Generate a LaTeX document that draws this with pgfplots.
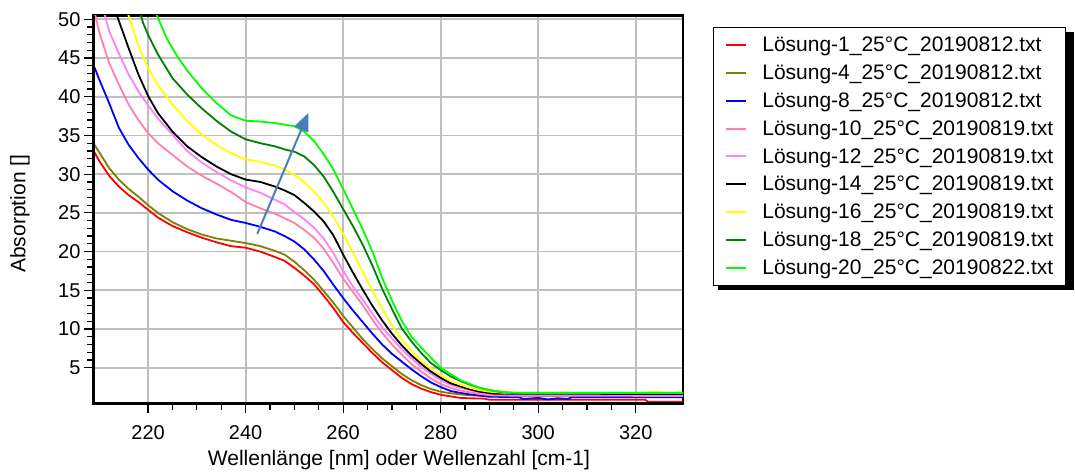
\documentclass[border=0pt]{standalone}
\usepackage{fontspec}
\setmainfont{Liberation Sans}
\usepackage{pgfplots}
\pgfplotsset{compat=1.18}
\usetikzlibrary{arrows.meta}
\definecolor{cRed}{RGB}{255,0,0}
\definecolor{cOlive}{RGB}{128,128,0}
\definecolor{cBlue}{RGB}{0,0,255}
\definecolor{cPink}{RGB}{255,128,170}
\definecolor{cViolet}{RGB}{255,128,255}
\definecolor{cYellow}{RGB}{255,255,0}
\definecolor{cDkGreen}{RGB}{0,128,0}
\definecolor{cGreen}{RGB}{0,255,0}
\definecolor{cArrow}{RGB}{74,126,187}
\definecolor{cGrid}{RGB}{192,192,192}
\begin{document}
\begin{tikzpicture}[x=1pt,y=1pt]
\useasboundingbox (0,0) rectangle (1075,475);
% legend shadow
\fill[black] (718,185) rectangle (1073.5,443);
\begin{axis}[
  at={(93pt,71pt)}, anchor=south west,
  scale only axis, width=590pt, height=388.3pt,
  xmin=208.7, xmax=329.7, ymin=0.31, ymax=50.47,
  xtick={220,240,...,320}, ytick={5,10,...,50},
  minor x tick num=3, minor y tick num=4,
  xtick pos=bottom, ytick pos=left,
  tick align=outside,
  major tick length=9pt, minor tick length=6pt,
  xtick style={black, line width=1.2pt},
  ytick style={black, line width=1.2pt},
  grid=major,
  major grid style={cGrid, line width=1.8pt},
  axis line style={black, line width=2.5pt},
  /pgf/number format/assume math mode=true,
  tick label style={font=\fontsize{20}{24}\selectfont},
  xticklabel style={yshift=-9pt},
  label style={font=\fontsize{21}{25}\selectfont},
  xlabel={Wellenlänge [nm] oder Wellenzahl [cm-1]},
  ylabel={Absorption []},
  xlabel style={at={(axis description cs:0.5186,-0.144)}, anchor=center},
  ylabel style={at={(axis description cs:-0.1237,0.49)}, anchor=center},
  clip=true,
  every axis plot/.append style={line width=1.8pt},
  legend cell align=left,
  legend image code/.code={\draw[#1, line width=2pt] (0pt,0pt) -- (20pt,0pt);},
  legend style={at={(1.0503,0.9717)}, anchor=north west, draw=black, line width=1.3pt,
    fill=white,
    font=\fontsize{21}{25}\selectfont, inner xsep=12pt, inner ysep=4pt, row sep=0pt,
    nodes={inner sep=0pt, minimum height=27.8pt},
    /tikz/every odd column/.append style={column sep=15pt},
    /tikz/every even column/.append style={column sep=5pt}},
]
\addplot[cRed] coordinates {(209,32.8)(210,31.7)(212,29.8)(214,28.4)(216,27.3)(218,26.4)(220,25.4)(222,24.4)(225,23.3)(228,22.5)(231,21.8)(234,21.2)(237,20.7)(240,20.5)(243,20.0)(246,19.3)(248,18.8)(250,17.9)(252,16.9)(254,15.8)(256,14.3)(258,12.7)(260,10.9)(262,9.5)(264,8.2)(266,6.9)(268,5.7)(270,4.7)(272,3.7)(274,2.9)(276,2.3)(278,1.85)(280,1.5)(282,1.3)(284,1.1)(286,1.05)(289,1.0)(290,0.85)(322,0.85)(322.5,0.6)(330,0.6)};
\addlegendentry{Lösung-1\_25°C\_20190812.txt}
\addplot[cOlive] coordinates {(209,33.8)(210,32.8)(212,30.8)(214,29.3)(216,28.1)(218,27.1)(220,26.0)(222,25.0)(225,23.8)(228,22.9)(231,22.2)(234,21.7)(237,21.4)(240,21.1)(243,20.7)(246,20.1)(248,19.6)(250,18.7)(252,17.6)(254,16.4)(256,14.9)(258,13.4)(260,11.7)(262,10.2)(264,8.7)(266,7.4)(268,6.2)(270,5.2)(272,4.2)(274,3.4)(276,2.75)(278,2.25)(280,1.9)(282,1.7)(284,1.55)(286,1.45)(290,1.3)(330,1.3)};
\addlegendentry{Lösung-4\_25°C\_20190812.txt}
\addplot[cBlue] coordinates {(209,43.8)(210,42.2)(212,39.2)(214,36.0)(216,33.8)(218,32.1)(220,30.6)(222,29.3)(225,27.8)(228,26.6)(231,25.6)(234,24.8)(237,24.1)(240,23.7)(243,23.2)(246,22.6)(248,22.0)(250,21.3)(252,20.3)(254,19.0)(256,17.5)(258,15.7)(260,14.0)(262,12.4)(264,10.9)(266,9.4)(268,8.0)(270,6.8)(272,5.8)(274,4.8)(276,3.9)(278,3.1)(280,2.5)(282,2.0)(284,1.75)(286,1.55)(288,1.4)(290,1.25)(296,1.2)(297,0.95)(300,1.1)(302,0.9)(304,1.05)(306,0.95)(307,1.2)(330,1.2)};
\addlegendentry{Lösung-8\_25°C\_20190812.txt}
\addplot[cPink] coordinates {(209,51)(210,48.3)(212,44.4)(214,41.6)(216,39.0)(218,37.0)(220,35.3)(222,34.0)(225,32.5)(228,31.0)(231,29.8)(234,28.8)(237,27.7)(240,26.4)(243,25.6)(246,24.9)(248,24.3)(250,23.7)(252,22.8)(254,21.8)(256,20.4)(258,18.5)(260,16.5)(262,14.8)(264,13.1)(266,11.2)(268,9.5)(270,8.0)(272,6.7)(274,5.5)(276,4.5)(278,3.6)(280,2.9)(282,2.4)(284,2.05)(286,1.8)(288,1.6)(291,1.4)(330,1.35)};
\addlegendentry{Lösung-10\_25°C\_20190819.txt}
\addplot[cViolet] coordinates {(210.5,52)(212,48.5)(214,45.6)(216,42.9)(218,40.7)(220,38.9)(222,37.2)(225,35.1)(228,33.0)(231,31.5)(234,30.3)(237,29.2)(240,28.3)(243,27.6)(246,26.7)(248,26.1)(250,25.1)(252,24.2)(254,23.1)(256,21.7)(258,19.8)(260,17.5)(262,15.5)(264,13.8)(266,12.0)(268,10.2)(270,8.8)(272,7.4)(274,6.2)(276,5.1)(278,4.2)(280,3.4)(282,2.8)(284,2.4)(286,2.1)(288,1.8)(290,1.6)(292,1.45)(330,1.45)};
\addlegendentry{Lösung-12\_25°C\_20190819.txt}
\addplot[black] coordinates {(213,51.5)(214,49.8)(216,46.3)(218,42.9)(220,40.1)(222,37.9)(225,35.5)(228,33.6)(231,32.2)(234,31.0)(237,30.0)(240,29.3)(243,29.0)(246,28.4)(248,27.9)(250,27.3)(252,26.3)(254,25.2)(256,23.9)(258,22.1)(260,19.6)(262,17.3)(264,15.1)(266,13.0)(268,11.1)(270,9.4)(272,7.9)(274,6.6)(276,5.5)(278,4.5)(280,3.7)(282,3.0)(284,2.6)(286,2.2)(288,1.9)(291,1.65)(330,1.6)};
\addlegendentry{Lösung-14\_25°C\_20190819.txt}
\addplot[cYellow] coordinates {(215.5,51.5)(216,50.5)(218,46.6)(220,43.7)(222,41.5)(225,39.0)(228,36.9)(231,35.1)(234,33.8)(237,32.7)(240,31.9)(243,31.6)(246,31.1)(248,30.6)(250,29.9)(252,29.0)(254,27.8)(256,26.3)(258,24.5)(260,22.3)(262,19.9)(264,17.4)(266,15.0)(268,12.6)(270,10.5)(272,8.7)(274,7.2)(276,5.9)(278,4.9)(280,4.0)(282,3.3)(284,2.8)(286,2.4)(288,2.1)(290,1.9)(293,1.75)(322,1.75)(324,1.9)(326,1.75)(330,1.75)};
\addlegendentry{Lösung-16\_25°C\_20190819.txt}
\addplot[cDkGreen] coordinates {(218,51.5)(219,49.5)(220,48.0)(222,45.5)(225,42.4)(228,40.3)(231,38.5)(234,36.9)(237,35.5)(240,34.5)(243,34.0)(246,33.6)(248,33.2)(250,32.9)(252,32.3)(254,31.2)(256,29.7)(258,27.7)(260,25.5)(262,23.3)(264,20.9)(266,18.2)(268,15.2)(270,12.6)(272,10.1)(274,8.4)(276,6.9)(278,5.6)(280,4.7)(282,3.9)(284,3.3)(286,2.8)(288,2.4)(290,2.1)(293,1.8)(296,1.7)(330,1.7)};
\addlegendentry{Lösung-18\_25°C\_20190819.txt}
\addplot[cGreen] coordinates {(221,51.8)(222,50.2)(224,47.3)(226,45.2)(228,43.4)(231,41.1)(234,39.2)(237,37.6)(240,36.9)(243,36.8)(246,36.6)(248,36.4)(250,36.2)(252,35.5)(254,34.3)(256,32.6)(258,30.6)(260,28.1)(262,25.5)(264,22.9)(266,20.0)(268,16.6)(270,13.7)(272,11.1)(274,9.0)(276,7.6)(278,6.3)(280,5.0)(282,4.2)(284,3.4)(286,2.9)(288,2.4)(290,2.1)(293,1.85)(296,1.75)(330,1.75)};
\addlegendentry{Lösung-20\_25°C\_20190822.txt}
\draw[cArrow, line width=2pt, -{Triangle[length=18pt,width=15pt]}] (axis cs:242.4,22.3) -- (axis cs:252.85,37.9);
\draw[black, line width=4.5pt] (rel axis cs:0,1) -- (rel axis cs:0,0);
\draw[black, line width=3.5pt] (rel axis cs:-0.004,0) -- (rel axis cs:1,0);
\end{axis}
\end{tikzpicture}
\end{document}
